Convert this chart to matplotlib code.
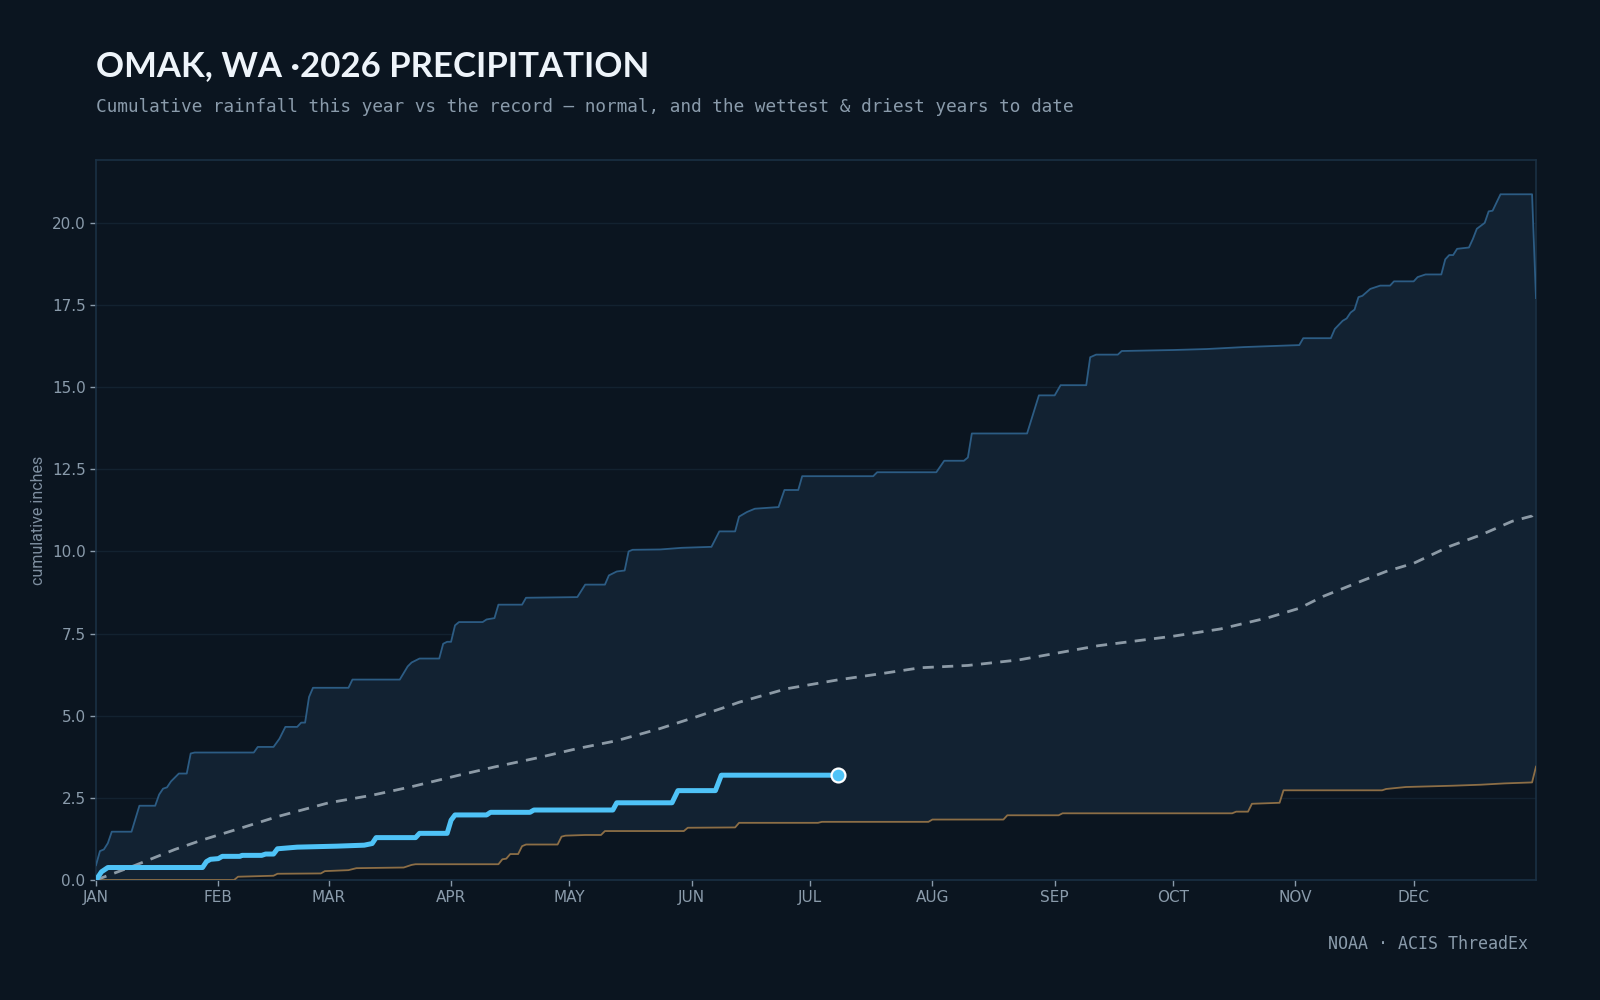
import numpy as np
import matplotlib
matplotlib.use("Agg")
import matplotlib.pyplot as plt

# day of year (0 = Jan 1) and cumulative inches
wet_days = [0, 1, 2, 3, 4, 9, 11, 15, 16, 17, 18, 19, 21, 23, 24, 25, 40, 41, 45, 46.5,
            48, 51, 52, 53, 54, 55, 64, 65, 77, 79, 80, 82, 87, 88, 89, 90, 91, 92, 98, 99,
            101, 102, 108, 109, 122, 124, 129, 130, 132, 134, 135, 136, 143, 148.5, 156, 158,
            162, 163, 165, 167, 173, 174.5, 178, 179, 197, 198, 213, 215, 220, 221, 222, 236,
            239, 243, 244.5, 251, 252, 253.5, 259, 260, 273, 281.5, 291, 302.5, 305, 306, 313,
            314, 316, 317, 318, 319, 320, 321, 323, 325.5, 328, 329, 334, 335, 337, 341, 342,
            343, 344, 345, 348, 349, 350, 352, 353, 354, 356, 364, 365]
wet_vals = [0.45, 0.88, 0.93, 1.12, 1.47, 1.47, 2.26, 2.26, 2.6, 2.78, 2.82, 3.0, 3.24, 3.24,
            3.85, 3.88, 3.88, 4.05, 4.05, 4.3, 4.66, 4.66, 4.79, 4.79, 5.57, 5.85, 5.85, 6.10,
            6.10, 6.5, 6.62, 6.74, 6.74, 7.19, 7.25, 7.25, 7.75, 7.85, 7.85, 7.93, 7.97, 8.38,
            8.38, 8.59, 8.61, 8.99, 8.99, 9.27, 9.39, 9.42, 10.0, 10.05, 10.06, 10.11, 10.14,
            10.61, 10.61, 11.06, 11.2, 11.3, 11.35, 11.87, 11.87, 12.29, 12.29, 12.41, 12.41,
            12.76, 12.76, 12.86, 13.59, 13.59, 14.75, 14.75, 15.06, 15.06, 15.91, 15.99, 15.99,
            16.10, 16.13, 16.16, 16.22, 16.27, 16.28, 16.49, 16.49, 16.77, 17.02, 17.09, 17.27,
            17.36, 17.74, 17.78, 17.99, 18.09, 18.09, 18.22, 18.22, 18.35, 18.43, 18.43, 18.89,
            19.02, 19.02, 19.21, 19.25, 19.51, 19.82, 20.0, 20.35, 20.37, 20.87, 20.87, 17.71]

dry_days = [0, 35, 36, 45, 46, 57, 58, 64, 66, 78, 80, 81, 102, 103, 104, 105, 107, 108, 109,
            117, 118, 119, 124, 128, 129, 149, 150, 162, 163, 183, 184, 211, 212, 230, 231, 244,
            245, 288, 289, 292, 293, 300, 301, 326, 327, 332, 344, 351, 357, 364, 365]
dry_vals = [0, 0, 0.10, 0.13, 0.19, 0.20, 0.27, 0.30, 0.36, 0.38, 0.46, 0.48, 0.48, 0.63, 0.65,
            0.79, 0.79, 1.03, 1.08, 1.08, 1.32, 1.35, 1.37, 1.37, 1.49, 1.49, 1.59, 1.60, 1.74,
            1.74, 1.77, 1.77, 1.84, 1.84, 1.97, 1.97, 2.03, 2.03, 2.08, 2.08, 2.32, 2.35, 2.73,
            2.73, 2.77, 2.83, 2.87, 2.90, 2.94, 2.97, 3.45]

norm_days = [0, 10, 20, 27, 37, 46, 59, 70, 80, 92, 101, 112, 122, 132, 143, 152, 159, 163,
             175, 188, 199, 209, 221, 234, 254, 273, 285, 297, 305, 311, 321, 327, 334, 343,
             351, 359, 364, 365]
norm_vals = [0, 0.45, 0.93, 1.22, 1.59, 1.93, 2.35, 2.58, 2.84, 3.19, 3.44, 3.72, 4.0, 4.24,
             4.61, 4.96, 5.24, 5.41, 5.82, 6.09, 6.28, 6.46, 6.53, 6.70, 7.13, 7.42, 7.64, 7.98,
             8.27, 8.63, 9.11, 9.39, 9.64, 10.15, 10.5, 10.92, 11.08, 11.3]

yr_days = [0, 1.4, 3, 27, 28, 29, 31, 32, 36.5, 37, 42, 43, 45, 46, 51, 61, 68, 70, 71, 81, 82,
           89, 90, 91, 99, 100, 110, 111, 131, 132, 146, 147.5, 157, 158.5, 188]
yr_vals = [0, 0.25, 0.38, 0.38, 0.56, 0.63, 0.65, 0.72, 0.72, 0.75, 0.75, 0.79, 0.79, 0.95, 1.0,
           1.03, 1.06, 1.11, 1.29, 1.29, 1.42, 1.42, 1.82, 1.98, 1.98, 2.06, 2.06, 2.13, 2.13,
           2.35, 2.35, 2.72, 2.72, 3.19, 3.19]

month_days = [0, 31, 59, 90, 120, 151, 181, 212, 243, 273, 304, 334]
month_labels = ["JAN", "FEB", "MAR", "APR", "MAY", "JUN", "JUL", "AUG", "SEP", "OCT", "NOV", "DEC"]

BG = "#0b1520"
MUTED = "#8a9bab"

fig = plt.figure(figsize=(16, 10), dpi=100, facecolor=BG)
ax = fig.add_axes([0.06, 0.12, 0.90, 0.72], facecolor=BG)

# band between driest and wettest
ax.fill(np.concatenate([wet_days, dry_days[::-1]]),
        np.concatenate([wet_vals, dry_vals[::-1]]),
        color="#122232", lw=0, zorder=1)
ax.plot(dry_days, dry_vals, color="#8c6e46", lw=1.3, zorder=3)
ax.plot(wet_days, wet_vals, color="#2c5c84", lw=1.3, zorder=3)
ax.plot(norm_days, norm_vals, color="#8c9aa6", lw=2, ls=(0, (4, 3)), zorder=4)
ax.plot(yr_days, yr_vals, color="#4fc3f7", lw=3.6, zorder=5, solid_capstyle="round")
ax.plot(yr_days[-1], yr_vals[-1], "o", ms=10, mfc="#4fc3f7", mec="white", mew=1.6, zorder=6)

ax.set_xlim(0, 365)
ax.set_ylim(0, max(wet_vals) * 1.05)
ax.set_xticks(month_days)
ax.set_xticklabels(month_labels)
ax.set_yticks(np.arange(0, 21, 2.5))
ax.set_yticklabels([f"{v:.1f}" for v in np.arange(0, 21, 2.5)])
ax.grid(axis="y", color="#132230", lw=1)
ax.set_axisbelow(True)
ax.tick_params(colors=MUTED, labelsize=11, length=4, width=1)
for s in ax.spines.values():
    s.set_color("#1a3044")
    s.set_linewidth(1.2)

fig.text(0.024, 0.48, "cumulative inches", rotation=90, color="#7f8fa0",
         fontsize=11.5, family="Roboto", ha="center", va="center")

fig.text(0.06, 0.924, "OMAK, WA \u00b72026 PRECIPITATION", color="#eef4fa",
         fontsize=25, fontweight="bold", family="Lato", va="baseline")
fig.text(0.06, 0.888, "Cumulative rainfall this year vs the record \u2014 normal, and the wettest & driest years to date",
         color=MUTED, fontsize=12.8, family="DejaVu Sans Mono", va="baseline")
fig.text(0.955, 0.051, "NOAA \u00b7 ACIS ThreadEx", color=MUTED, fontsize=12,
         family="DejaVu Sans Mono", ha="right", va="baseline")

fig.savefig("out.png", dpi=100, facecolor=BG)
